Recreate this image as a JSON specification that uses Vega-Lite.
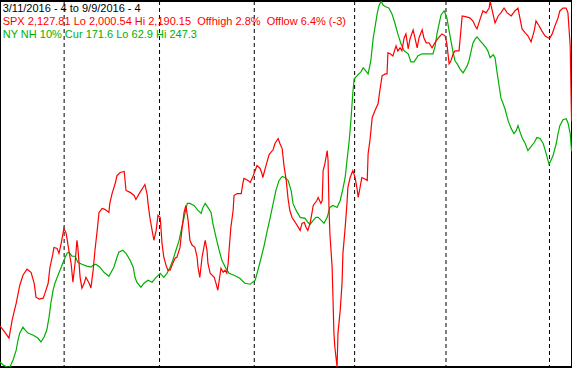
{
  "$schema": "https://vega.github.io/schema/vega-lite/v6.json",
  "width": 572,
  "height": 368,
  "autosize": {"type": "fit", "contains": "padding"},
  "padding": 0,
  "background": "white",
  "config": {"view": {"stroke": "black", "strokeWidth": 2}},
  "datasets": {
    "spx": [
      {"t":0,"v":2021.7},{"t":0.9,"v":2019.1},{"t":2.0,"v":2015.5},{"t":2.7,"v":2024.8},{"t":3.6,"v":2033.6},{"t":4.4,"v":2042.9},{"t":5.1,"v":2048.1},{"t":6.0,"v":2051.2},{"t":6.9,"v":2049.6},{"t":7.6,"v":2043.9},{"t":8.0,"v":2036.7},{"t":8.7,"v":2035.7},{"t":9.6,"v":2036.2},{"t":10.0,"v":2038.8},{"t":10.7,"v":2043.9},{"t":11.1,"v":2052.2},{"t":11.6,"v":2057.4},{"t":12.0,"v":2062.5},{"t":12.7,"v":2062.0},{"t":13.1,"v":2059.4},{"t":13.6,"v":2064.6},{"t":14.2,"v":2072.4},{"t":14.7,"v":2069.8},{"t":15.3,"v":2061.0},{"t":15.8,"v":2054.3},{"t":16.2,"v":2044.5},{"t":16.7,"v":2054.8},{"t":17.1,"v":2066.2},{"t":17.3,"v":2062.5},{"t":17.8,"v":2047.0},{"t":18.2,"v":2041.4},{"t":18.7,"v":2043.9},{"t":19.1,"v":2047.0},{"t":19.8,"v":2043.9},{"t":20.2,"v":2041.4},{"t":20.7,"v":2050.7},{"t":21.1,"v":2061.0},{"t":21.6,"v":2071.3},{"t":22.0,"v":2080.6},{"t":22.7,"v":2082.7},{"t":23.3,"v":2082.2},{"t":24.2,"v":2080.6},{"t":24.4,"v":2085.3},{"t":24.9,"v":2090.4},{"t":25.6,"v":2095.6},{"t":26.0,"v":2099.7},{"t":26.7,"v":2101.3},{"t":27.6,"v":2101.8},{"t":28.0,"v":2092.0},{"t":28.9,"v":2091.0},{"t":29.8,"v":2089.4},{"t":30.2,"v":2087.3},{"t":31.1,"v":2091.0},{"t":32.2,"v":2095.1},{"t":32.7,"v":2089.9},{"t":32.9,"v":2085.3},{"t":33.3,"v":2078.0},{"t":33.8,"v":2071.3},{"t":34.2,"v":2066.2},{"t":34.7,"v":2071.3},{"t":35.1,"v":2079.1},{"t":35.6,"v":2078.0},{"t":35.8,"v":2071.3},{"t":36.0,"v":2064.6},{"t":36.4,"v":2057.4},{"t":36.9,"v":2053.2},{"t":37.3,"v":2050.7},{"t":37.8,"v":2050.7},{"t":38.4,"v":2054.3},{"t":38.9,"v":2056.9},{"t":39.3,"v":2057.4},{"t":40.0,"v":2062.5},{"t":40.4,"v":2071.3},{"t":40.9,"v":2080.6},{"t":41.3,"v":2084.2},{"t":41.8,"v":2076.5},{"t":42.2,"v":2066.2},{"t":42.7,"v":2063.6},{"t":43.3,"v":2062.5},{"t":43.8,"v":2057.4},{"t":44.0,"v":2052.2},{"t":44.4,"v":2047.0},{"t":44.9,"v":2057.4},{"t":45.3,"v":2062.5},{"t":45.6,"v":2066.2},{"t":46.0,"v":2061.0},{"t":46.2,"v":2054.3},{"t":46.7,"v":2049.1},{"t":47.6,"v":2047.0},{"t":48.0,"v":2043.9},{"t":48.4,"v":2040.3},{"t":49.1,"v":2051.7},{"t":49.6,"v":2049.6},{"t":50.0,"v":2050.7},{"t":50.4,"v":2049.1},{"t":50.7,"v":2054.3},{"t":50.9,"v":2061.0},{"t":51.3,"v":2072.9},{"t":51.8,"v":2081.6},{"t":52.0,"v":2089.4},{"t":52.7,"v":2090.4},{"t":53.6,"v":2090.4},{"t":54.0,"v":2096.1},{"t":54.2,"v":2098.2},{"t":55.1,"v":2097.2},{"t":55.6,"v":2096.1},{"t":56.2,"v":2099.2},{"t":56.7,"v":2102.3},{"t":57.1,"v":2104.9},{"t":57.8,"v":2103.4},{"t":58.2,"v":2100.8},{"t":58.4,"v":2098.7},{"t":59.1,"v":2104.9},{"t":59.8,"v":2110.6},{"t":60.7,"v":2113.2},{"t":61.1,"v":2116.3},{"t":61.8,"v":2118.9},{"t":62.2,"v":2116.3},{"t":62.7,"v":2113.7},{"t":63.1,"v":2104.9},{"t":63.6,"v":2097.2},{"t":64.0,"v":2087.9},{"t":64.4,"v":2081.6},{"t":64.9,"v":2078.0},{"t":65.6,"v":2075.5},{"t":66.7,"v":2071.3},{"t":67.1,"v":2074.9},{"t":67.6,"v":2075.5},{"t":68.0,"v":2072.9},{"t":68.4,"v":2071.3},{"t":68.9,"v":2074.9},{"t":69.3,"v":2080.1},{"t":69.6,"v":2084.2},{"t":70.4,"v":2086.8},{"t":70.7,"v":2088.4},{"t":71.3,"v":2085.3},{"t":71.6,"v":2086.8},{"t":71.8,"v":2102.3},{"t":72.2,"v":2105.9},{"t":72.7,"v":2112.7},{"t":72.9,"v":2107.5},{"t":73.1,"v":2083.2},{"t":73.3,"v":2069.8},{"t":73.8,"v":2052.2},{"t":74.0,"v":2035.2},{"t":74.2,"v":2018.1},{"t":74.4,"v":2010.9},{"t":74.9,"v":2000.54},{"t":75.1,"v":2018.1},{"t":75.6,"v":2030.0},{"t":76.0,"v":2043.9},{"t":76.2,"v":2059.4},{"t":76.7,"v":2072.9},{"t":77.1,"v":2085.3},{"t":77.3,"v":2093.5},{"t":77.8,"v":2098.7},{"t":78.4,"v":2102.3},{"t":78.9,"v":2098.7},{"t":79.3,"v":2093.5},{"t":79.6,"v":2088.4},{"t":80.0,"v":2093.5},{"t":80.4,"v":2098.7},{"t":80.9,"v":2098.2},{"t":81.6,"v":2097.2},{"t":81.8,"v":2111.1},{"t":82.2,"v":2117.8},{"t":82.7,"v":2129.7},{"t":83.3,"v":2133.3},{"t":84.0,"v":2136.9},{"t":84.4,"v":2143.7},{"t":84.9,"v":2151.4},{"t":85.6,"v":2152.4},{"t":86.0,"v":2152.4},{"t":86.2,"v":2163.3},{"t":86.7,"v":2162.8},{"t":87.3,"v":2161.7},{"t":88.0,"v":2166.9},{"t":88.4,"v":2164.3},{"t":88.9,"v":2165.9},{"t":89.3,"v":2164.3},{"t":89.8,"v":2171.0},{"t":90.2,"v":2173.1},{"t":90.7,"v":2165.4},{"t":91.1,"v":2170.5},{"t":91.8,"v":2175.2},{"t":92.7,"v":2165.9},{"t":93.1,"v":2171.0},{"t":93.8,"v":2175.2},{"t":94.2,"v":2171.0},{"t":94.7,"v":2168.5},{"t":95.3,"v":2168.5},{"t":96.0,"v":2165.9},{"t":96.9,"v":2169.5},{"t":97.8,"v":2172.1},{"t":98.2,"v":2173.1},{"t":98.9,"v":2172.1},{"t":99.3,"v":2167.9},{"t":99.8,"v":2157.6},{"t":100.2,"v":2159.2},{"t":100.7,"v":2162.8},{"t":101.1,"v":2164.3},{"t":102.0,"v":2164.3},{"t":102.7,"v":2182.4},{"t":103.6,"v":2181.9},{"t":104.4,"v":2181.4},{"t":105.1,"v":2179.8},{"t":105.6,"v":2177.2},{"t":106.0,"v":2175.7},{"t":106.7,"v":2180.9},{"t":107.3,"v":2185.0},{"t":108.0,"v":2184.0},{"t":108.7,"v":2186.5},{"t":108.9,"v":2190.15},{"t":109.3,"v":2186.0},{"t":110.0,"v":2178.8},{"t":110.7,"v":2182.4},{"t":111.3,"v":2184.0},{"t":112.0,"v":2186.5},{"t":112.7,"v":2184.0},{"t":113.6,"v":2182.4},{"t":114.4,"v":2185.0},{"t":115.1,"v":2186.5},{"t":116.0,"v":2175.7},{"t":116.7,"v":2173.6},{"t":117.3,"v":2172.1},{"t":118.0,"v":2169.0},{"t":118.7,"v":2174.7},{"t":119.1,"v":2179.8},{"t":119.8,"v":2177.2},{"t":120.4,"v":2174.7},{"t":121.1,"v":2172.1},{"t":121.8,"v":2171.0},{"t":122.2,"v":2171.0},{"t":122.7,"v":2173.1},{"t":123.3,"v":2177.2},{"t":124.0,"v":2181.4},{"t":124.4,"v":2185.0},{"t":125.1,"v":2186.5},{"t":125.8,"v":2186.5},{"t":126.2,"v":2184.0},{"t":126.7,"v":2166.9},{"t":127.0,"v":2127.81}
    ],
    "nh": [
      {"t":0,"v":65.4},{"t":0.7,"v":63.9},{"t":1.6,"v":62.9},{"t":2.2,"v":62.9},{"t":2.9,"v":66.4},{"t":3.6,"v":71.4},{"t":4.0,"v":76.5},{"t":4.4,"v":80.0},{"t":5.1,"v":83.0},{"t":5.6,"v":81.5},{"t":6.2,"v":80.0},{"t":7.3,"v":79.0},{"t":8.4,"v":77.5},{"t":9.1,"v":75.5},{"t":9.8,"v":78.0},{"t":10.4,"v":81.5},{"t":10.9,"v":88.0},{"t":11.3,"v":95.1},{"t":11.8,"v":101.6},{"t":12.2,"v":105.1},{"t":12.9,"v":109.1},{"t":13.6,"v":113.2},{"t":14.2,"v":116.7},{"t":14.9,"v":120.2},{"t":15.3,"v":120.7},{"t":16.0,"v":118.7},{"t":16.7,"v":118.7},{"t":17.3,"v":115.7},{"t":18.2,"v":114.7},{"t":19.3,"v":113.7},{"t":20.2,"v":113.2},{"t":20.7,"v":114.2},{"t":21.3,"v":114.7},{"t":22.2,"v":113.2},{"t":23.1,"v":110.6},{"t":24.2,"v":108.6},{"t":25.3,"v":113.2},{"t":26.0,"v":118.2},{"t":26.4,"v":120.7},{"t":27.3,"v":121.7},{"t":28.0,"v":120.2},{"t":28.9,"v":116.7},{"t":29.6,"v":113.2},{"t":30.0,"v":108.1},{"t":30.4,"v":105.6},{"t":31.3,"v":103.1},{"t":32.0,"v":105.1},{"t":32.9,"v":106.6},{"t":33.8,"v":105.6},{"t":34.7,"v":108.1},{"t":35.6,"v":110.1},{"t":36.4,"v":108.1},{"t":37.1,"v":110.1},{"t":37.8,"v":113.2},{"t":38.4,"v":116.7},{"t":39.1,"v":121.7},{"t":39.8,"v":126.7},{"t":40.4,"v":133.2},{"t":41.1,"v":140.3},{"t":41.6,"v":145.3},{"t":42.2,"v":145.3},{"t":43.1,"v":144.3},{"t":44.0,"v":141.8},{"t":44.7,"v":140.3},{"t":45.1,"v":143.3},{"t":45.6,"v":145.3},{"t":46.2,"v":143.3},{"t":46.9,"v":140.8},{"t":47.3,"v":135.3},{"t":48.0,"v":128.2},{"t":48.7,"v":121.7},{"t":49.3,"v":116.7},{"t":50.2,"v":112.6},{"t":50.9,"v":110.1},{"t":52.0,"v":109.1},{"t":53.3,"v":107.6},{"t":54.4,"v":105.1},{"t":55.6,"v":104.6},{"t":56.7,"v":106.6},{"t":57.3,"v":111.6},{"t":58.0,"v":117.7},{"t":58.7,"v":124.2},{"t":59.3,"v":130.7},{"t":60.0,"v":137.8},{"t":60.7,"v":145.3},{"t":61.3,"v":151.8},{"t":62.0,"v":156.9},{"t":62.7,"v":158.9},{"t":63.3,"v":158.4},{"t":64.0,"v":156.9},{"t":64.7,"v":151.8},{"t":65.1,"v":145.3},{"t":65.8,"v":141.8},{"t":66.7,"v":138.3},{"t":67.8,"v":137.8},{"t":68.4,"v":135.8},{"t":68.9,"v":134.8},{"t":69.6,"v":136.8},{"t":70.2,"v":138.3},{"t":70.7,"v":138.3},{"t":71.6,"v":136.3},{"t":72.0,"v":135.3},{"t":72.7,"v":138.3},{"t":73.3,"v":143.3},{"t":74.0,"v":144.3},{"t":74.9,"v":143.3},{"t":75.6,"v":146.8},{"t":76.2,"v":152.8},{"t":76.7,"v":158.4},{"t":77.1,"v":166.9},{"t":77.6,"v":177.0},{"t":78.0,"v":188.0},{"t":78.4,"v":201.1},{"t":78.7,"v":208.1},{"t":79.3,"v":209.6},{"t":80.2,"v":211.6},{"t":80.7,"v":213.6},{"t":81.1,"v":212.6},{"t":81.8,"v":210.6},{"t":82.4,"v":217.2},{"t":82.9,"v":228.2},{"t":83.3,"v":233.7},{"t":83.8,"v":240.8},{"t":84.2,"v":244.8},{"t":84.7,"v":247.3},{"t":85.1,"v":245.3},{"t":85.8,"v":244.3},{"t":86.4,"v":243.8},{"t":87.1,"v":240.8},{"t":87.8,"v":235.7},{"t":88.4,"v":230.7},{"t":89.1,"v":225.7},{"t":89.8,"v":222.2},{"t":90.7,"v":220.7},{"t":91.3,"v":216.6},{"t":92.0,"v":216.6},{"t":92.9,"v":219.7},{"t":93.8,"v":220.7},{"t":94.7,"v":220.7},{"t":95.6,"v":220.7},{"t":96.2,"v":220.7},{"t":96.7,"v":224.7},{"t":97.1,"v":230.7},{"t":97.6,"v":236.2},{"t":98.0,"v":240.3},{"t":98.7,"v":242.3},{"t":98.9,"v":241.3},{"t":99.3,"v":238.8},{"t":99.8,"v":232.2},{"t":100.2,"v":227.2},{"t":100.7,"v":221.2},{"t":101.1,"v":217.2},{"t":101.6,"v":215.6},{"t":102.2,"v":213.1},{"t":102.9,"v":211.1},{"t":103.3,"v":212.6},{"t":103.8,"v":214.6},{"t":104.2,"v":217.2},{"t":104.7,"v":222.2},{"t":105.1,"v":226.2},{"t":105.6,"v":228.2},{"t":106.0,"v":229.2},{"t":106.7,"v":227.2},{"t":107.3,"v":225.7},{"t":108.0,"v":223.7},{"t":108.4,"v":222.2},{"t":108.9,"v":218.7},{"t":109.6,"v":220.2},{"t":110.0,"v":218.7},{"t":110.4,"v":212.1},{"t":110.9,"v":204.6},{"t":111.3,"v":198.6},{"t":111.8,"v":195.5},{"t":112.2,"v":193.0},{"t":112.9,"v":187.0},{"t":113.6,"v":183.0},{"t":114.2,"v":180.5},{"t":114.7,"v":182.0},{"t":115.1,"v":184.5},{"t":115.6,"v":181.0},{"t":116.0,"v":178.5},{"t":116.7,"v":175.5},{"t":117.3,"v":171.9},{"t":118.0,"v":173.9},{"t":118.7,"v":176.0},{"t":119.3,"v":178.5},{"t":120.0,"v":178.0},{"t":120.7,"v":175.5},{"t":121.3,"v":170.9},{"t":122.0,"v":164.9},{"t":122.4,"v":166.9},{"t":122.9,"v":169.4},{"t":123.6,"v":175.5},{"t":124.0,"v":180.5},{"t":124.4,"v":184.5},{"t":125.1,"v":187.5},{"t":125.8,"v":188.0},{"t":126.2,"v":186.0},{"t":126.7,"v":180.5},{"t":127.0,"v":171.6}
    ],
    "months": [
      {"month":"Apr","t":14.25},{"month":"May","t":35.45},{"month":"Jun","t":56.5},{"month":"Jul","t":78.8},{"month":"Aug","t":99.1},{"month":"Sep","t":122.1}
    ],
    "labels": [
      {"row":1,"text":"3/11/2016 - 4 to 9/9/2016 - 4","c":"#000000"},
      {"row":2,"text":"SPX 2,127.81 Lo 2,000.54 Hi 2,190.15 \u00a0Offhigh 2.8% \u00a0Offlow 6.4% (-3)","c":"#FF0000"},
      {"row":3,"text":"NY NH 10% Cur 171.6 Lo 62.9 Hi 247.3","c":"#00B000"}
    ]
  },
  "layer": [
    {
      "data": {"name": "months"},
      "mark": {"type": "rule", "color": "black", "strokeWidth": 1, "strokeDash": [4, 3]},
      "encoding": {
        "x": {"field": "t", "type": "quantitative", "scale": {"domain": [0, 127.1], "nice": false, "zero": false}, "axis": null}
      }
    },
    {
      "data": {"name": "nh"},
      "mark": {"type": "line", "color": "#00B000", "strokeWidth": 1.2, "clip": true},
      "encoding": {
        "x": {"field": "t", "type": "quantitative", "axis": null},
        "y": {"field": "v", "type": "quantitative", "scale": {"domain": [62.9, 247.3], "nice": false, "zero": false}, "axis": null}
      }
    },
    {
      "data": {"name": "spx"},
      "mark": {"type": "line", "color": "#FF0000", "strokeWidth": 1.2, "clip": true},
      "encoding": {
        "x": {"field": "t", "type": "quantitative", "axis": null},
        "y": {"field": "v", "type": "quantitative", "scale": {"domain": [2000.54, 2190.15], "nice": false, "zero": false}, "axis": null}
      }
    },
    {
      "data": {"name": "labels"},
      "mark": {"type": "text", "align": "left", "baseline": "alphabetic", "font": "Liberation Sans", "fontSize": 11},
      "encoding": {
        "x": {"datum": 0.6, "type": "quantitative"},
        "y": {"field": "row", "type": "ordinal", "scale": {"type": "point", "range": [11, 37], "padding": 0}, "axis": null},
        "text": {"field": "text"},
        "color": {"field": "c", "type": "nominal", "scale": null, "legend": null}
      }
    }
  ],
  "resolve": {"scale": {"y": "independent"}}
}
